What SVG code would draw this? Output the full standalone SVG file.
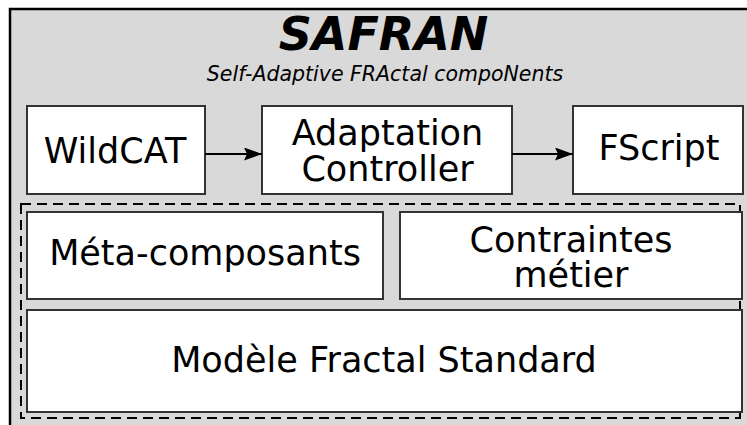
<svg xmlns="http://www.w3.org/2000/svg" width="747" height="425" viewBox="0 0 747 425">
<style>
.box{fill:#fff;stroke:#333;stroke-width:2}
.lbl{font-family:"DejaVu Sans",sans-serif;font-size:35px;fill:#000;text-anchor:middle}
.conn{stroke:#000;stroke-width:2;fill:none}
</style>
<defs>
<marker id="arr" markerWidth="18" markerHeight="13" refX="18" refY="6.5" orient="auto" markerUnits="userSpaceOnUse">
<path d="M0,0 L18,6.5 L0,13 L3,6.5 Z" fill="#000"/>
</marker>
</defs>
<rect width="747" height="425" fill="#fff"/>
<g id="safran">
<rect x="10" y="9" width="750" height="430" fill="#d9d9d9" stroke="#000" stroke-width="2.5"/>
<text x="383.5" y="50" font-family="DejaVu Sans,sans-serif" font-size="46" font-weight="bold" font-style="italic" text-anchor="middle">SAFRAN</text>
<text x="385" y="81" font-family="DejaVu Sans,sans-serif" font-size="20.5" font-style="italic" text-anchor="middle">Self-Adaptive FRActal compoNents</text>
</g>
<g id="fractal-layer">
<rect x="21" y="204" width="719" height="214" fill="none" stroke="#000" stroke-width="2" stroke-dasharray="10,6"/>
</g>
<g id="wildcat">
<rect class="box" x="27" y="106" width="178" height="88"/>
<text class="lbl" x="115" y="163">WildCAT</text>
</g>
<g id="adaptation-controller">
<rect class="box" x="262" y="106" width="250" height="88"/>
<text class="lbl" x="387.5" y="145">Adaptation</text>
<text class="lbl" x="387.5" y="181">Controller</text>
</g>
<g id="fscript">
<rect class="box" x="573" y="106" width="170" height="88"/>
<text class="lbl" x="659" y="160">FScript</text>
</g>
<g id="meta-composants">
<rect class="box" x="27" y="212" width="356" height="87"/>
<text class="lbl" x="205" y="265">Méta-composants</text>
</g>
<g id="contraintes">
<rect class="box" x="400" y="212" width="342" height="87"/>
<text class="lbl" x="571" y="252">Contraintes</text>
<text class="lbl" x="571" y="287">métier</text>
</g>
<g id="modele">
<rect class="box" x="27" y="310" width="715" height="102"/>
<text class="lbl" x="384" y="372">Modèle Fractal Standard</text>
</g>
<g id="connectors">
<line class="conn" x1="205" y1="154" x2="262" y2="154" marker-end="url(#arr)"/>
<line class="conn" x1="512" y1="154" x2="573" y2="154" marker-end="url(#arr)"/>
</g>
</svg>
